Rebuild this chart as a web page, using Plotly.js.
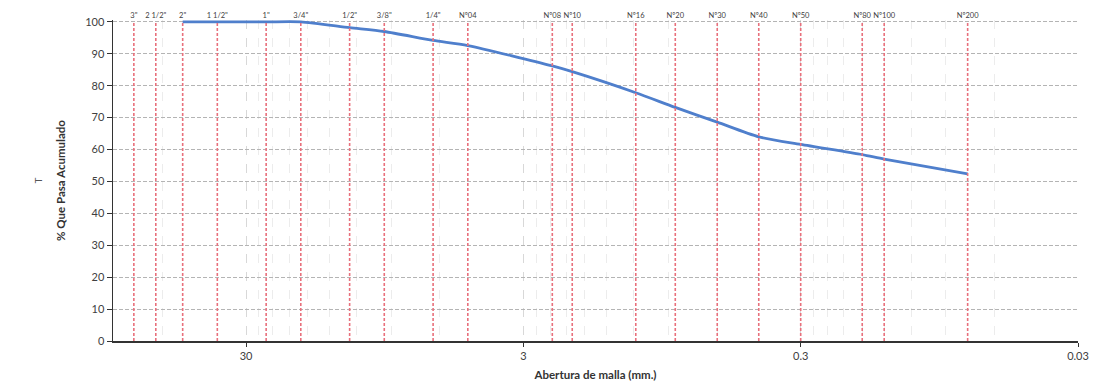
<!DOCTYPE html>
<html>
<head>
<meta charset="utf-8">
<script src="https://cdn.plot.ly/plotly-3.0.1.min.js"></script>
<style>
html,body{margin:0;padding:0;background:#fff;}
#chart{width:1096px;height:390px;}
</style>
</head>
<body>
<div id="chart"></div>
<script>
// Sieve names and openings (mm)
const sieveLabels = ['3"', '2 1/2"', '2"', '1 1/2"', '1"', '3/4"', '1/2"', '3/8"', '1/4"', 'Nº04', 'Nº08', 'Nº10', 'Nº16', 'Nº20', 'Nº30', 'Nº40', 'Nº50', 'Nº80', 'Nº100', 'Nº200'];
const sieveSizes = [76.2, 63.5, 50.8, 38.1, 25.4, 19.05, 12.7, 9.525, 6.35, 4.76, 2.36, 2.0, 1.18, 0.85, 0.6, 0.425, 0.3, 0.18, 0.15, 0.075];

// Grading curve (% passing)
const curveSizes = [50.8, 38.1, 25.4, 19.05, 12.7, 9.525, 6.35, 4.76, 2.36, 2.0, 1.18, 0.85, 0.6, 0.425, 0.3, 0.18, 0.15, 0.075];
const curvePass  = [100, 100, 100, 100, 98.2, 97.0, 94.2, 92.6, 86.2, 84.4, 77.8, 73.2, 68.6, 64.0, 61.6, 58.4, 57.0, 52.4];

// Axis ticks
const xTickVals = [30, 3, 0.3, 0.03];
const xTickText = ['30', '3', '0.3', '0.03'];
const minorMultipliers = [2, 3, 4, 5, 6, 7, 8, 9];
const minorBases = [0.03, 0.3, 3, 30];
const yTickVals = [0, 10, 20, 30, 40, 50, 60, 70, 80, 90, 100];

const xMax = 90.6, xMin = 0.03;
const yMax = 100.6;

const minorVals = [];
minorBases.forEach(b => minorMultipliers.forEach(m => { const v = b * m; if (v < xMax) minorVals.push(v); }));

const sx = [], sy = [];
sieveSizes.forEach(v => { sx.push(v, v, null); sy.push(0, 100, null); });

const font = "Lato, 'Open Sans', 'Liberation Sans', sans-serif";
const xRange = [Math.log10(xMax), Math.log10(xMin)];

const traces = [
  {
    x: sx, y: sy, xaxis: 'x2', yaxis: 'y', mode: 'lines', hoverinfo: 'skip',
    line: {color: '#e8707c', width: 1.6, dash: '3px,2px'}, showlegend: false
  },
  {
    x: curveSizes, y: curvePass, mode: 'lines',
    line: {color: '#4f7fcc', width: 2.8, shape: 'spline', smoothing: 0.7},
    showlegend: false
  }
];

const layout = {
  width: 1096, height: 390,
  margin: {l: 113, r: 18, t: 20, b: 49},
  paper_bgcolor: '#fff', plot_bgcolor: '#fff',
  font: {family: font, color: '#404040', size: 11},
  xaxis: {
    type: 'log', range: xRange, autorange: false,
    tickmode: 'array', tickvals: xTickVals, ticktext: xTickText,
    ticks: 'outside', ticklen: 4, tickcolor: '#333',
    showline: true, linecolor: '#333', linewidth: 1.5,
    showgrid: true, gridcolor: '#d8d8d8', griddash: 'dash', gridwidth: 1,
    zeroline: false,
    tickfont: {size: 11, color: '#404040'},
    minor: {tickmode: 'array', tickvals: minorVals, showgrid: true, gridcolor: '#ececec', gridwidth: 1, ticks: ''},
    title: {text: 'Abertura de malla (mm.)', font: {size: 11.5, color: '#333', weight: 'bold'}, standoff: 10}
  },
  xaxis2: {
    type: 'log', range: xRange, autorange: false, overlaying: 'x', side: 'top',
    tickmode: 'array', tickvals: sieveSizes, ticktext: sieveLabels, tickangle: 0,
    ticks: '', showline: false, showgrid: false, zeroline: false,
    tickfont: {size: 7.5, color: '#404040'}
  },
  yaxis: {
    range: [0, yMax], autorange: false,
    tickmode: 'array', tickvals: yTickVals,
    ticks: 'outside', ticklen: 5, tickcolor: '#333',
    showline: true, linecolor: '#333', linewidth: 1.5,
    showgrid: true, gridcolor: '#b4b4b4', griddash: '4px,2px', gridwidth: 1,
    zeroline: false,
    tickfont: {size: 11, color: '#404040'},
    title: {text: '% Que Pasa Acumulado', font: {size: 11.5, color: '#333', weight: 'bold'}, standoff: 17}
  },
  annotations: [
    {text: 'T', xref: 'paper', yref: 'paper', x: -0.0778, y: 0.5, showarrow: false, textangle: -90,
     font: {size: 10, color: '#555'}, xanchor: 'center', yanchor: 'middle'}
  ]
};

Plotly.newPlot('chart', traces, layout, {displayModeBar: false, staticPlot: true});
</script>
</body>
</html>
